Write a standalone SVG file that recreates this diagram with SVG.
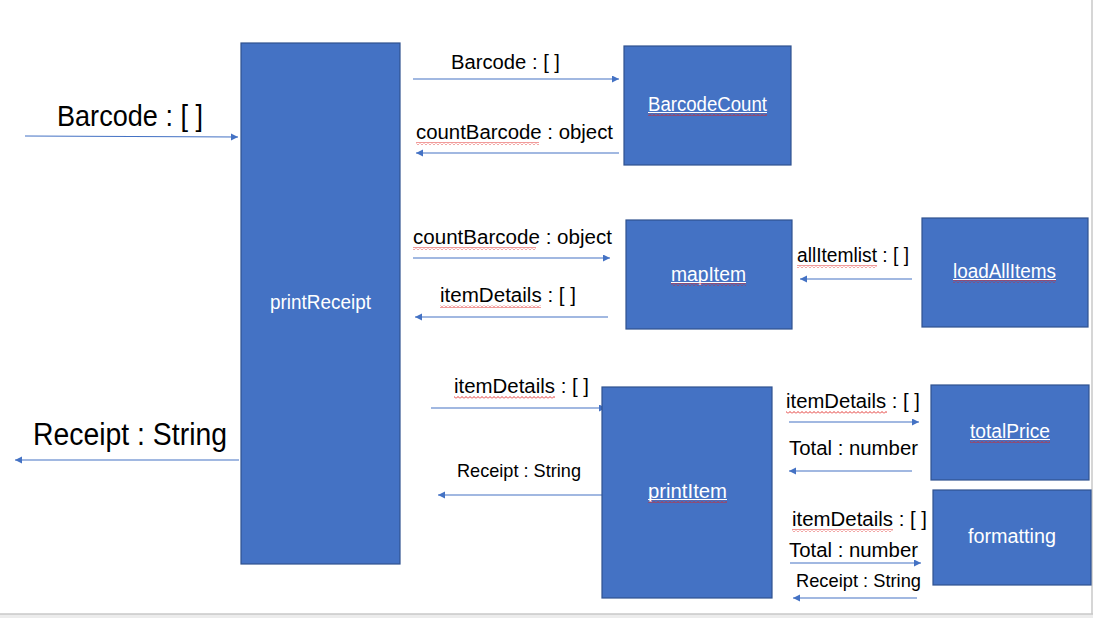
<svg xmlns="http://www.w3.org/2000/svg" width="1093" height="618" viewBox="0 0 1093 618">
<style>
.box{fill:#4472c4;stroke:#2f528f;stroke-width:1.2}
.nt{fill:#ffffff;font-family:"Liberation Sans",Arial,sans-serif;font-size:20px;text-anchor:start}
.lbl{fill:#000000;font-family:"Liberation Sans",Arial,sans-serif;font-size:20px}
.big{font-size:29px}
.big2{font-size:31px}
.s19{font-size:19px}
.con{stroke:#4472c4;stroke-width:1.1;fill:none;marker-end:url(#ah)}
.sq{fill:url(#wave)}
.ul{stroke:#ffffff;stroke-width:1}
</style>
<defs>
<marker id="ah" markerUnits="userSpaceOnUse" markerWidth="8" markerHeight="8" refX="7" refY="3.5" orient="auto">
<path d="M0,0 L7,3.5 L0,7 z" fill="#4472c4"/>
</marker>
<pattern id="wave" patternUnits="userSpaceOnUse" width="4" height="3">
<polyline points="0,2.5 2,0.5 4,2.5" fill="none" stroke="#e0201f" stroke-width="0.9"/>
</pattern>
</defs>
<rect x="0" y="0" width="1093" height="618" fill="#ffffff"/>
<rect x="0" y="614" width="1093" height="4" fill="#ececec"/>
<line x1="0" y1="614" x2="1093" y2="614" stroke="#c8c8c8" stroke-width="1.5"/>
<line x1="1092" y1="0" x2="1092" y2="614" stroke="#c8c8c8" stroke-width="1.5"/>

<g id="connectors">
<line class="con" x1="25" y1="136" x2="238" y2="137"/>
<line class="con" x1="239" y1="460" x2="15" y2="460"/>
<line class="con" x1="413" y1="79" x2="619" y2="79"/>
<line class="con" x1="619" y1="153" x2="416" y2="153"/>
<line class="con" x1="413" y1="258" x2="610" y2="258"/>
<line class="con" x1="608" y1="317" x2="415" y2="317"/>
<line class="con" x1="912" y1="279" x2="800" y2="279"/>
<line class="con" x1="431" y1="408" x2="606" y2="408"/>
<line class="con" x1="602" y1="495" x2="438" y2="495"/>
<line class="con" x1="789" y1="422" x2="919" y2="422"/>
<line class="con" x1="912" y1="471" x2="789" y2="471"/>
<line class="con" x1="790" y1="563" x2="921" y2="563"/>
<line class="con" x1="917" y1="598" x2="793" y2="598"/>
</g>

<g id="labels">
<text class="lbl big" x="57" y="126" textLength="146" lengthAdjust="spacingAndGlyphs">Barcode : [ ]</text>
<text class="lbl big2" x="33" y="445" textLength="194" lengthAdjust="spacingAndGlyphs">Receipt : String</text>
<text class="lbl" x="451" y="69" textLength="109" lengthAdjust="spacingAndGlyphs">Barcode : [ ]</text>
<text class="lbl" x="416" y="139" textLength="197" lengthAdjust="spacingAndGlyphs">countBarcode : object</text>
<rect class="sq" x="416" y="142" width="123" height="3"/>
<text class="lbl" x="413" y="244" textLength="199" lengthAdjust="spacingAndGlyphs">countBarcode : object</text>
<rect class="sq" x="413" y="247" width="123" height="3"/>
<text class="lbl" x="440" y="302" textLength="136" lengthAdjust="spacingAndGlyphs">itemDetails : [ ]</text>
<rect class="sq" x="440" y="305" width="101" height="3"/>
<text class="lbl" x="797" y="262" textLength="112" lengthAdjust="spacingAndGlyphs">allItemlist : [ ]</text>
<rect class="sq" x="797" y="265" width="80" height="3"/>
<text class="lbl" x="454" y="393" textLength="135" lengthAdjust="spacingAndGlyphs">itemDetails : [ ]</text>
<rect class="sq" x="454" y="396" width="101" height="3"/>
<text class="lbl s19" x="457" y="477" textLength="124" lengthAdjust="spacingAndGlyphs">Receipt : String</text>
<text class="lbl" x="786" y="408" textLength="134" lengthAdjust="spacingAndGlyphs">itemDetails : [ ]</text>
<rect class="sq" x="786" y="411" width="101" height="3"/>
<text class="lbl" x="789" y="455" textLength="129" lengthAdjust="spacingAndGlyphs">Total : number</text>
<text class="lbl" x="792" y="526" textLength="135" lengthAdjust="spacingAndGlyphs">itemDetails : [ ]</text>
<rect class="sq" x="792" y="529" width="101" height="3"/>
<text class="lbl" x="789" y="557" textLength="129" lengthAdjust="spacingAndGlyphs">Total : number</text>
<text class="lbl s19" x="796" y="587" textLength="125" lengthAdjust="spacingAndGlyphs">Receipt : String</text>
</g>

<g id="printReceipt">
<rect class="box" x="241" y="43" width="159" height="521"/>
<text class="nt" x="270" y="309" textLength="101" lengthAdjust="spacingAndGlyphs">printReceipt</text>
</g>

<g id="BarcodeCount">
<rect class="box" x="624" y="46" width="167" height="119"/>
<text class="nt" x="648" y="111" textLength="119" lengthAdjust="spacingAndGlyphs">BarcodeCount</text>
<line class="ul" x1="648" y1="112.5" x2="767" y2="112.5"/>
<rect class="sq" x="648" y="113" width="119" height="3"/>
</g>

<g id="mapItem">
<rect class="box" x="626" y="220" width="166" height="109"/>
<text class="nt" x="671" y="281" textLength="75" lengthAdjust="spacingAndGlyphs">mapItem</text>
<line class="ul" x1="671" y1="282.5" x2="746" y2="282.5"/>
<rect class="sq" x="671" y="283" width="75" height="3"/>
</g>

<g id="loadAllItems">
<rect class="box" x="922" y="218" width="166" height="109"/>
<text class="nt" x="953" y="278" textLength="103" lengthAdjust="spacingAndGlyphs">loadAllItems</text>
<line class="ul" x1="953" y1="279.5" x2="1056" y2="279.5"/>
<rect class="sq" x="953" y="280" width="103" height="3"/>
</g>

<g id="printItem">
<rect class="box" x="602" y="387" width="170" height="211"/>
<text class="nt" x="648" y="498" textLength="79" lengthAdjust="spacingAndGlyphs">printItem</text>
<line class="ul" x1="648" y1="499.5" x2="727" y2="499.5"/>
<rect class="sq" x="648" y="500" width="79" height="3"/>
</g>

<g id="totalPrice">
<rect class="box" x="931" y="385" width="158" height="95"/>
<text class="nt" x="970" y="438" textLength="80" lengthAdjust="spacingAndGlyphs">totalPrice</text>
<line class="ul" x1="970" y1="439.5" x2="1050" y2="439.5"/>
<rect class="sq" x="970" y="440" width="80" height="3"/>
</g>

<g id="formatting">
<rect class="box" x="933" y="490" width="158" height="95"/>
<text class="nt" x="968" y="543" textLength="88" lengthAdjust="spacingAndGlyphs">formatting</text>
</g>
</svg>
